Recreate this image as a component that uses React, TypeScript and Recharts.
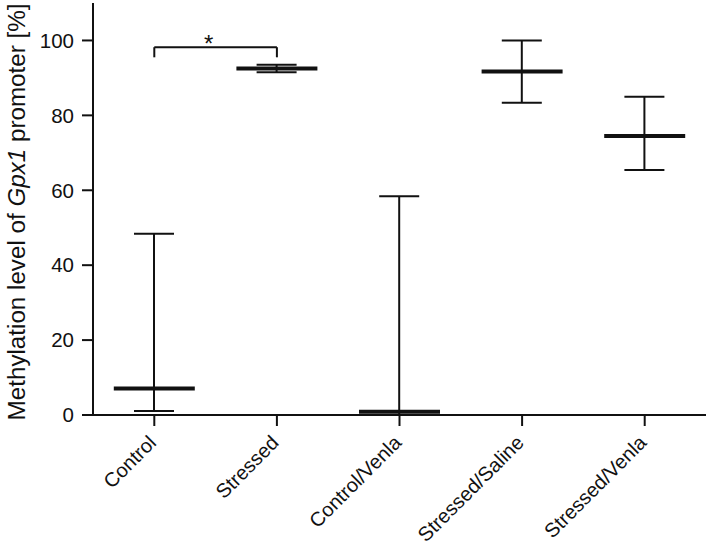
import React from 'react';
import { ComposedChart, Bar, Scatter, XAxis, YAxis, ReferenceLine } from 'recharts';

const categories = ['Control', 'Stressed', 'Control/Venla', 'Stressed/Saline', 'Stressed/Venla'];
const medians = [7.1, 92.5, 0.9, 91.7, 74.5];
const mins = [1.1, 91.5, 0, 83.4, 65.4];
const maxs = [48.4, 93.5, 58.4, 100, 85];
const yTicks = [0, 20, 40, 60, 80, 100];
const bracketY = 98.2;
const bracketLegY = 95.5;
const sigLabel = '*';

const data = categories.map((c, i) => ({
  name: c,
  range: [mins[i], maxs[i]],
  median: medians[i],
}));

const FONT = '"Liberation Sans", Arial, Helvetica, sans-serif';
const INK = '#111';

const WhiskerShape = (props: any) => {
  const { x, y, width, height } = props;
  const cx = x + width / 2;
  const top = y;
  const bottom = y + height;
  return (
    <g stroke={INK} strokeWidth={2} fill="none">
      <line x1={cx} x2={cx} y1={top} y2={bottom} />
      <line x1={x} x2={x + width} y1={top} y2={top} />
      <line x1={x} x2={x + width} y1={bottom} y2={bottom} />
    </g>
  );
};

const MedianShape = (props: any) => {
  const { cx, cy } = props;
  return <line x1={cx - 40.5} x2={cx + 40.5} y1={cy} y2={cy} stroke={INK} strokeWidth={4} />;
};

const XTick = (props: any) => {
  const { x, y, payload } = props;
  return (
    <g transform={`translate(${x + 3},${y + 16})`}>
      <text
        x={0}
        y={0}
        textAnchor="end"
        transform="rotate(-45)"
        fontFamily={FONT}
        fontSize={20}
        fill={INK}
      >
        {payload.value}
      </text>
    </g>
  );
};

const YLabel = (props: any) => {
  const vb = props.viewBox || { x: 0, y: 3, width: 93, height: 412 };
  const tx = vb.x + 25;
  const ty = vb.y + vb.height / 2 + 3;
  return (
    <text
      x={tx}
      y={ty}
      transform={`rotate(-90, ${tx}, ${ty})`}
      textAnchor="middle"
      fontFamily={FONT}
      fontSize={24.2}
      fill={INK}
    >
      <tspan>Methylation level of </tspan>
      <tspan fontStyle="italic">Gpx1</tspan>
      <tspan> promoter [%]</tspan>
    </text>
  );
};

const SigLabel = (props: any) => {
  const vb = props.viewBox || { x: 0, y: 0, width: 0 };
  const mx = vb.x + (vb.width || 0) / 2 - 7;
  return (
    <text x={mx} y={vb.y + 4.5} textAnchor="middle" fontFamily={FONT} fontSize={24} fill={INK}>
      {sigLabel}
    </text>
  );
};

export default function App() {
  return (
    <div style={{ position: 'absolute', left: 0, top: 0, background: '#fff' }}>
      <ComposedChart
        width={709}
        height={554}
        data={data}
        margin={{ top: 3, right: 3, bottom: 0, left: 0 }}
      >
        <XAxis
          dataKey="name"
          type="category"
          height={139}
          axisLine={{ stroke: INK, strokeWidth: 2 }}
          tickLine={{ stroke: INK, strokeWidth: 2 }}
          tickSize={11}
          tick={<XTick />}
          interval={0}
        />
        <YAxis
          type="number"
          domain={[0, 110]}
          ticks={yTicks}
          width={93}
          axisLine={{ stroke: INK, strokeWidth: 2 }}
          tickLine={{ stroke: INK, strokeWidth: 2 }}
          tickSize={11}
          tickMargin={8}
          tick={{ fontFamily: FONT, fontSize: 20.5, fill: INK }}
          label={{ content: <YLabel /> }}
        />
        <Bar dataKey="range" barSize={40} shape={<WhiskerShape />} isAnimationActive={false} />
        <Scatter dataKey="median" shape={<MedianShape />} isAnimationActive={false} />
        <ReferenceLine
          segment={[{ x: 'Control', y: bracketY }, { x: 'Stressed', y: bracketY }]}
          stroke={INK}
          strokeWidth={2}
          label={{ content: <SigLabel /> }}
        />
        <ReferenceLine
          segment={[{ x: 'Control', y: bracketLegY }, { x: 'Control', y: bracketY }]}
          stroke={INK}
          strokeWidth={2}
        />
        <ReferenceLine
          segment={[{ x: 'Stressed', y: bracketLegY }, { x: 'Stressed', y: bracketY }]}
          stroke={INK}
          strokeWidth={2}
        />
      </ComposedChart>
    </div>
  );
}
